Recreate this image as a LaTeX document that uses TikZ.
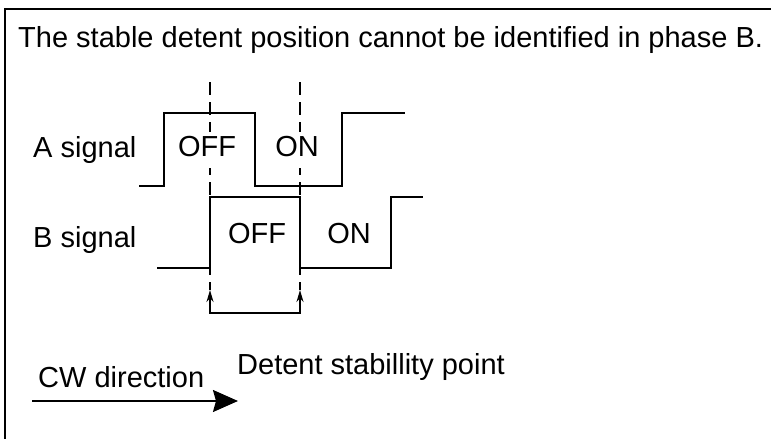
\documentclass[tikz,border=0pt]{standalone}
\usepackage{fontspec}
\setmainfont{Liberation Sans}
\usetikzlibrary{arrows.meta}
\begin{document}
\begin{tikzpicture}[x=1pt,y=-1pt,
  txt/.style={font=\fontsize{29}{34}\selectfont, inner sep=0pt, anchor=base west},
  lbl/.style={font=\fontsize{29}{34}\selectfont, inner sep=0pt, anchor=base},
  masklbl/.style={lbl, fill=white, text height=22pt, text depth=10pt, inner ysep=2pt, inner xsep=1pt},
  wave/.style={line width=1.8pt, line join=miter},
  guide/.style={line width=1.8pt, dash pattern=on 13pt off 7pt},
  framestyle/.style={line width=2.5pt},
  smalltip/.style={{Stealth[length=12pt,width=7pt]}-{Stealth[length=12pt,width=7pt]}},
  bigtip/.style={-{Stealth[length=25pt,width=22pt,inset=3pt]}}]
\useasboundingbox (0,0) rectangle (771,439);
% frame
\draw[framestyle] (5,441) -- (5,9) -- (773,9);
% title
\node[txt] (title) at (18,47) {The stable detent position cannot be identified in phase B.};
% signal labels
\node[txt] (alabel) at (33,157) {A signal};
\node[txt] (blabel) at (33,247) {B signal};
% dashed guide lines
\coordinate (g1top) at (210,82);
\coordinate (g1bot) at (210,290);
\coordinate (g2top) at (300,82);
\coordinate (g2bot) at (300,290);
\draw[guide] (g1top) -- (g1bot);
\draw[guide] (g2top) -- (g2bot);
% A waveform
\coordinate (a0) at (139,186);
\coordinate (a1) at (164,186);
\coordinate (a2) at (164,113);
\coordinate (a3) at (255,113);
\coordinate (a4) at (255,186);
\coordinate (a5) at (342,186);
\coordinate (a6) at (342,113);
\coordinate (a7) at (405,113);
\draw[wave] (a0) -- (a1) -- (a2) -- (a3) -- (a4) -- (a5) -- (a6) -- (a7);
% B waveform
\coordinate (b0) at (157,268);
\coordinate (b1) at (210,268);
\coordinate (b2) at (210,197);
\coordinate (b3) at (300,197);
\coordinate (b4) at (300,268);
\coordinate (b5) at (391,268);
\coordinate (b6) at (391,197);
\coordinate (b7) at (423,197);
\draw[wave] (b0) -- (b1) -- (b2) -- (b3) -- (b4) -- (b5) -- (b6) -- (b7);
% state labels
\node[masklbl] (aoff) at (207,156) {OFF};
\node[masklbl] (aon) at (297,156) {ON};
\node[lbl] (boff) at (257,243) {OFF};
\node[lbl] (bon) at (349,243) {ON};
% bracket with arrows
\coordinate (k1) at (210,313);
\coordinate (k2) at (300,313);
\draw[wave, smalltip] (g1bot) -- (k1) -- (k2) -- (g2bot);
% CW direction
\node[txt] (cw) at (38,387) {CW direction};
\coordinate (cws) at (32,401);
\coordinate (cwe) at (238,401);
\draw[line width=1.8pt, bigtip] (cws) -- (cwe);
\node[txt] (detent) at (237,374) {Detent stabillity point};
\end{tikzpicture}
\end{document}
